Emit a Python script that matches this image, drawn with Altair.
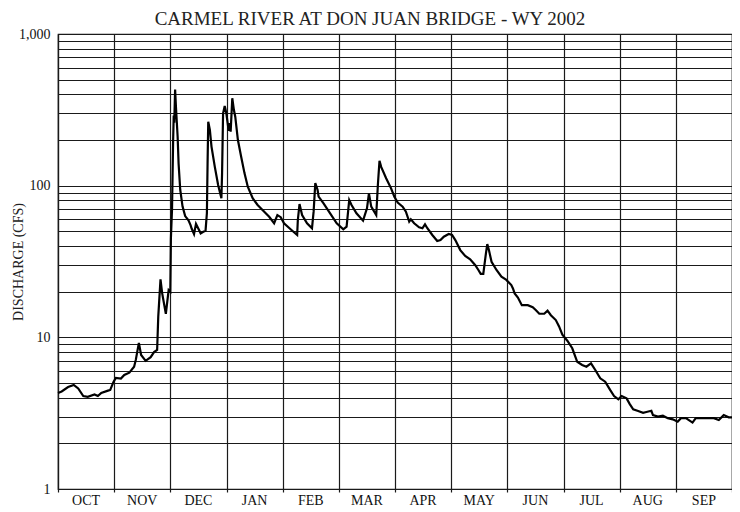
import altair as alt
import pandas as pd

# Position along the water year, in months since Oct 1 (each month drawn equally wide)
pos = [
    0.00, 0.065, 0.18, 0.28, 0.36, 0.45, 0.53, 0.65, 0.71, 0.77, 0.89, 0.93,
    0.99, 1.03, 1.12, 1.18, 1.27, 1.355, 1.385, 1.44, 1.48, 1.56, 1.65, 1.71,
    1.765, 1.785, 1.825, 1.855, 1.92, 1.97, 2.00, 2.01, 2.03, 2.05, 2.06, 2.07,
    2.085, 2.10, 2.13, 2.147, 2.176, 2.217, 2.264, 2.323, 2.36, 2.381, 2.422,
    2.457, 2.50, 2.54, 2.587, 2.627, 2.651, 2.663, 2.675, 2.704, 2.733, 2.792,
    2.851, 2.909, 2.921, 2.939, 2.968, 2.997, 3.039, 3.056, 3.074, 3.103, 3.132,
    3.156, 3.203, 3.261, 3.32, 3.379, 3.466, 3.554, 3.672, 3.76, 3.848, 3.906,
    3.965, 4.024, 4.141, 4.258, 4.27, 4.30, 4.346, 4.434, 4.522, 4.551, 4.581,
    4.622, 4.64, 4.728, 4.845, 4.962, 5.08, 5.138, 5.185, 5.226, 5.314, 5.431,
    5.501, 5.536, 5.577, 5.666, 5.695, 5.724, 5.754, 5.842, 5.93, 5.989, 6.048,
    6.136, 6.194, 6.253, 6.282, 6.341, 6.429, 6.488, 6.534, 6.576, 6.664, 6.752,
    6.81, 6.869, 6.957, 7.016, 7.074, 7.162, 7.25, 7.338, 7.426, 7.485, 7.526,
    7.572, 7.619, 7.643, 7.672, 7.719, 7.807, 7.895, 7.983, 8.071, 8.10, 8.13,
    8.188, 8.258, 8.364, 8.452, 8.51, 8.569, 8.657, 8.716, 8.775, 8.863, 8.921,
    8.98, 9.068, 9.156, 9.244, 9.332, 9.408, 9.49, 9.566, 9.654, 9.742, 9.83,
    9.90, 9.977, 10.035, 10.123, 10.18, 10.241, 10.329, 10.417, 10.476, 10.564,
    10.593, 10.681, 10.769, 10.857, 10.945, 11.033, 11.091, 11.179, 11.297,
    11.355, 11.531, 11.677, 11.765, 11.853, 11.941, 12.0,
]

# Discharge, cubic feet per second
cfs = [
    4.3, 4.4, 4.7, 4.85, 4.6, 4.1, 4.05, 4.2, 4.1, 4.3, 4.45, 4.5,
    5.1, 5.4, 5.35, 5.65, 5.85, 6.4, 7.1, 9.2, 7.65, 7.0, 7.4, 8.0,
    8.25, 13.7, 24.1, 19.5, 14.3, 20.5, 20, 45, 70, 200, 290, 260,
    430, 330, 210, 140, 94, 73, 63, 59, 55, 52, 48,
    56, 52, 48.5, 49.7, 50.5, 66, 140, 264, 233, 181, 133,
    101, 82.5, 120, 300, 335, 300, 230, 258, 227, 377, 315,
    285, 200, 155, 121, 98.5, 82.6, 74.6, 67.4, 62.4, 56.5, 64,
    62, 56.5, 51.6, 47.3, 59.4, 75.7, 64, 56.5, 52.4, 67.4, 104,
    93.6, 84.6, 76.5, 65.7, 56.5, 51.6, 53.6, 80.4, 74.6, 65.7, 58.8,
    70.9, 89, 72.7, 64, 101, 146, 133, 112, 96, 84.6, 77.3,
    72.7, 67.4, 57.9, 60, 56.5, 53.1, 52.4, 55.6, 52.4, 47.3, 43.2,
    43.8, 46.1, 48, 47.3, 43.8, 37.6, 34.4, 32.7, 30, 27.8, 26.2,
    26.2, 35.8, 41.2, 37.6, 31.5, 27.8, 25.1, 23.9, 22.1, 21, 19.5,
    18.3, 16.3, 16.3, 15.8, 15.1, 14.3, 14.3, 15, 14, 13, 11.8,
    10.4, 9.5, 8.47, 6.9, 6.57, 6.4, 6.74, 6.09, 5.37, 5.1, 4.5,
    4.1, 3.9, 4.1, 3.96, 3.63, 3.35, 3.27, 3.18, 3.22, 3.28,
    3.07, 3.0, 3.04, 2.93, 2.88, 2.78, 2.93, 2.93, 2.74,
    2.93, 2.93, 2.93, 2.85, 3.07, 2.97, 2.97,
]

month_labels = ["OCT", "NOV", "DEC", "JAN", "FEB", "MAR",
                "APR", "MAY", "JUN", "JUL", "AUG", "SEP"]
month_centers = [0.5, 1.5, 2.5, 3.5, 4.5, 5.5, 6.5, 7.5, 8.5, 9.5, 10.5, 11.5]
month_edges = [0, 1, 2, 3, 4, 5, 6, 7, 8, 9, 10, 11, 12]

y_grid = [1, 2, 3, 4, 5, 6, 7, 8, 9,
          10, 20, 30, 40, 50, 60, 70, 80, 90,
          100, 200, 300, 400, 500, 600, 700, 800, 900, 1000]

title_text = ["CARMEL RIVER AT DON JUAN BRIDGE - WY 2002"]

FONT = "Liberation Serif"
W, H = 674, 455
INK = "#1a1a1a"

flow = pd.DataFrame({"pos": pos, "cfs": cfs})
mdf = pd.DataFrame({"pos": month_centers, "label": month_labels})
tdf = pd.DataFrame({"t": title_text})

xscale = alt.Scale(domain=[0, 12], nice=False, zero=False)
xaxis = alt.Axis(values=month_edges, labels=False, title=None,
                 grid=True, gridColor=INK, gridWidth=1.2,
                 ticks=True, tickSize=3, tickColor=INK, tickWidth=1.2,
                 domainColor=INK, domainWidth=1.2)

line = alt.Chart(flow).mark_line(color="black", strokeWidth=2.2).encode(
    x=alt.X("pos:Q", scale=xscale, axis=xaxis),
    y=alt.Y("cfs:Q",
            scale=alt.Scale(type="log", domain=[1, 1000], nice=False),
            axis=alt.Axis(values=y_grid,
                          labelExpr="indexof([1,10,100,1000], datum.value) >= 0 ? format(datum.value, ',') : ''",
                          title="DISCHARGE (CFS)",
                          titleFont=FONT, titleFontSize=14, titleFontWeight="normal",
                          titleColor="#222", titleAngle=270,
                          titleX=-40, titleY=H / 2, titleAlign="center",
                          titleBaseline="middle",
                          labelFont=FONT, labelFontSize=14, labelColor="#111",
                          labelPadding=8, ticks=False,
                          grid=True, gridColor=INK, gridWidth=1.2,
                          domainColor=INK, domainWidth=1.2)),
)

labels = alt.Chart(mdf).mark_text(
    font=FONT, fontSize=14, color="#111", baseline="alphabetic", align="center"
).encode(
    x=alt.X("pos:Q", scale=xscale, axis=xaxis),
    y=alt.value(H + 16),
    text="label:N",
)

title = alt.Chart(tdf).mark_text(
    font=FONT, fontSize=19, color="#222", baseline="alphabetic", align="center"
).encode(
    x=alt.value(312),
    y=alt.value(-9.5),
    text="t:N",
)

chart = alt.layer(line, labels, title).properties(
    width=W, height=H,
    autosize=alt.AutoSizeParams(type="none"),
    padding={"left": 50, "top": 26, "right": 0, "bottom": 23},
).configure_view(stroke=INK, strokeWidth=1.2)

chart.save("out.html", embed_options={"renderer": "svg", "actions": False})
